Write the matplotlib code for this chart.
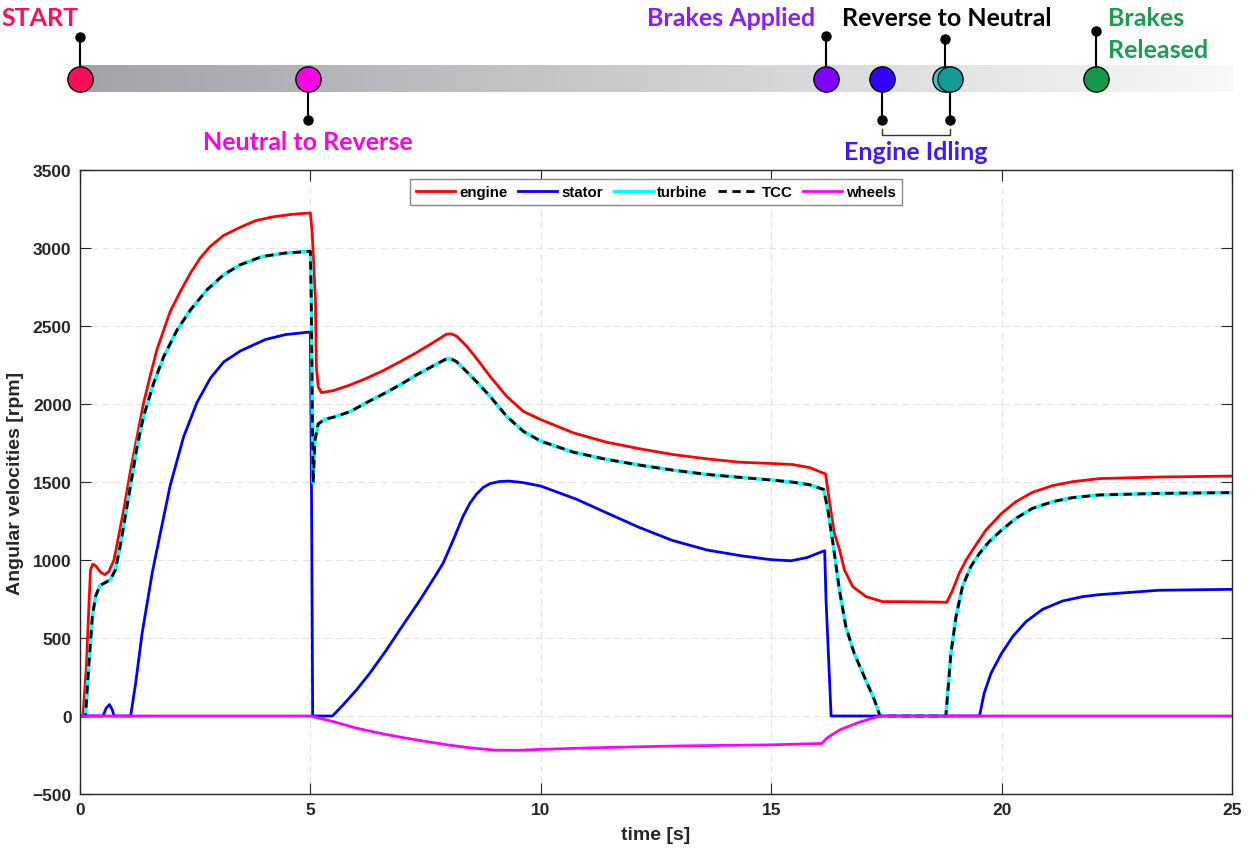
import matplotlib
matplotlib.use("Agg")
import matplotlib.pyplot as plt
import numpy as np
from matplotlib.colors import LinearSegmentedColormap

# engine speed [rpm]
t_engine = [0, 0.065, 0.14, 0.20, 0.23, 0.28, 0.35, 0.45, 0.54, 0.63, 0.74, 0.81, 0.95, 1.10,
            1.24, 1.38, 1.53, 1.67, 1.82, 1.96, 2.18, 2.40, 2.61, 2.83, 3.12, 3.48, 3.81, 4.17,
            4.60, 5.0, 5.04, 5.08, 5.11, 5.13, 5.17, 5.24, 5.50, 5.86, 6.22, 6.58, 6.94, 7.30,
            7.66, 7.95, 8.05, 8.17, 8.40, 8.65, 8.90, 9.26, 9.62, 10.0, 10.71, 11.43, 12.15,
            12.87, 13.59, 14.31, 15.0, 15.47, 15.84, 16.18, 16.26, 16.37, 16.48, 16.59, 16.77,
            17.06, 17.42, 17.92, 18.43, 18.81, 18.94, 19.08, 19.23, 19.44, 19.66, 20.0, 20.31,
            20.67, 21.11, 21.54, 22.12, 23.41, 25]
engine = [0, 0, 318, 746, 938, 974, 960, 921, 906, 927, 1002, 1107, 1321, 1578,
          1791, 2005, 2187, 2348, 2476, 2594, 2722, 2840, 2936, 3011, 3081, 3133, 3175, 3199,
          3216, 3225, 3096, 2850, 2669, 2240, 2111, 2073, 2086, 2122, 2165, 2214, 2270, 2329,
          2393, 2447, 2450, 2436, 2368, 2275, 2177, 2049, 1953, 1900, 1815, 1755, 1713,
          1676, 1649, 1627, 1619, 1612, 1592, 1551, 1385, 1171, 1070, 936, 829,
          765, 733, 733, 731, 729, 808, 915, 1000, 1096, 1192, 1299, 1374,
          1434, 1477, 1502, 1522, 1532, 1538]

# turbine speed [rpm], TCC follows the same trace
t_turbine = [0, 0.12, 0.19, 0.27, 0.34, 0.43, 0.56, 0.66, 0.77, 0.88, 1.02, 1.24, 1.38, 1.60,
             1.82, 2.11, 2.40, 2.76, 3.12, 3.48, 3.95, 4.46, 5.0, 5.02, 5.04, 5.06,
             5.10, 5.17, 5.31, 5.50, 5.86, 6.22, 6.58, 6.94, 7.30, 7.66, 7.95, 8.05, 8.17, 8.39,
             8.65, 8.90, 9.26, 9.62, 10.0, 10.71, 11.43, 12.15, 12.87, 13.59, 14.31, 15.0,
             15.47, 15.84, 16.14, 16.23, 16.34, 16.48, 16.62, 16.80, 17.02, 17.24, 17.36, 18.79,
             18.83, 18.90, 19.01, 19.15, 19.33, 19.52, 19.73, 20.0, 20.31, 20.67, 21.11, 21.54,
             22.12, 23.41, 25]
turbine = [0, 0, 318, 639, 767, 836, 857, 874, 938, 1100, 1342, 1727, 1920, 2134,
           2305, 2476, 2604, 2733, 2829, 2893, 2945, 2968, 2979, 2669, 2028, 1494,
           1769, 1872, 1902, 1915, 1951, 2009, 2064, 2122, 2186, 2244, 2289, 2290, 2272, 2208,
           2130, 2049, 1921, 1825, 1762, 1691, 1645, 1608, 1576, 1549, 1530, 1513,
           1499, 1482, 1452, 1321, 1107, 808, 573, 402, 252, 103, 0, 0,
           145, 402, 637, 829, 957, 1043, 1118, 1192, 1267, 1331, 1374, 1400,
           1417, 1427, 1432]

# stator speed [rpm]
t_stator = [0, 0.50, 0.57, 0.64, 0.70, 0.74, 1.10, 1.21, 1.35, 1.57, 1.75, 1.96, 2.25, 2.54,
            2.83, 3.12, 3.48, 4.02, 4.46, 5.0, 5.03, 5.05, 5.48, 5.71, 6.00, 6.29, 6.65,
            7.01, 7.38, 7.70, 7.88, 8.10, 8.31, 8.46, 8.60, 8.75, 8.90, 9.10, 9.30, 9.60, 10.0,
            10.78, 11.37, 12.12, 12.86, 13.61, 14.35, 15.0, 15.43, 15.77, 16.16, 16.19, 16.30,
            19.52, 19.62, 19.77, 20.0, 20.24, 20.53, 20.89, 21.32, 21.76, 22.12, 23.41, 25]
stator = [0, 0, 51, 73, 41, 0, 0, 212, 532, 920, 1180, 1480, 1790, 2010,
          2165, 2270, 2340, 2413, 2445, 2462, 1200, 0, 0, 71, 167, 274, 423,
          583, 744, 893, 979, 1128, 1278, 1363, 1420, 1465, 1490, 1503, 1506, 1497, 1474,
          1389, 1310, 1211, 1125, 1064, 1027, 1002, 995, 1015, 1060, 744, 0,
          0, 145, 274, 402, 509, 605, 684, 737, 765, 778, 806, 812]

# wheel speed [rpm]
t_wheels = [0, 5.0, 5.5, 6.0, 6.5, 7.0, 7.5, 8.0, 8.5, 9.0, 9.5, 10.0, 11.0, 12.0, 13.0,
            14.0, 15.0, 16.10, 16.18, 16.23, 16.50, 16.91, 17.35, 25]
wheels = [0, 0, -36, -78, -110, -138, -163, -186, -205, -219, -220, -214, -205, -198, -192,
          -188, -185, -176, -150, -137, -87, -40, 0, 0]

# gear / brake events along the time bar
event_t = [0, 4.95, 16.2, 17.4, 18.78, 18.88, 22.05]
event_col = ["#ff0d5b", "#ff00e6", "#7f00ff", "#3300ff", "#1dd3d3", "#129b9b", "#129a48"]
event_stem = [42, -41, 43, -41, 40, -41, 48]

plt.rcParams["font.family"] = ["Liberation Sans", "DejaVu Sans"]
plt.rcParams["font.weight"] = "bold"
plt.rcParams["axes.labelweight"] = "bold"

fig = plt.figure(figsize=(12.55, 8.53), dpi=100)
ax = fig.add_axes([0.0637, 0.068, 0.918, 0.7315])

ax.plot(t_engine, engine, color="red", lw=2, label="engine")
ax.plot(t_stator, stator, color="blue", lw=2, label="stator")
ax.plot(t_turbine, turbine, color="cyan", lw=2.5, label="turbine")
ax.plot(t_turbine, turbine, color="black", lw=2, ls=(0, (3, 2)), label="TCC")
ax.plot(t_wheels, wheels, color="magenta", lw=2, label="wheels")

ax.set_xlim(0, 25)
ax.set_ylim(-500, 3500)
ax.set_xticks(np.arange(0, 26, 5))
ax.set_yticks(np.arange(-500, 3501, 500))
ax.grid(True, ls=(0, (6, 4)), color="#e3e3e3", lw=0.8)
ax.tick_params(direction="in", length=8, width=0.8, top=True, right=True,
               labelsize=12.5, colors="#262626", labelcolor="#262626", pad=6)
plt.setp(ax.get_xticklabels() + ax.get_yticklabels(), fontweight="bold")
for s in ax.spines.values():
    s.set_color("#262626")
    s.set_linewidth(1)
ax.set_xlabel("time [s]", fontsize=14, color="#262626", labelpad=6)
ax.set_ylabel("Angular velocities [rpm]", fontsize=14, color="#262626", labelpad=6)

leg = ax.legend(loc="upper center", bbox_to_anchor=(0.5, 0.986), ncol=5, fontsize=10.8,
                handlelength=2.6, columnspacing=0.7, handletextpad=0.3, borderpad=0.4,
                borderaxespad=0, fancybox=False, framealpha=1, edgecolor="#888888")
leg.get_frame().set_linewidth(1)

# time bar with events
axt = fig.add_axes([0.0637, 0.8124, 0.918, 0.1876])
axt.set_xlim(0, 25)
axt.set_ylim(-80, 80)
axt.axis("off")

gray = LinearSegmentedColormap.from_list("bar", ["#a2a3a7", "#f8f8f8"])
axt.imshow(np.linspace(0, 1, 256)[None, :], cmap=gray, aspect="auto",
           extent=[0, 25, -13, 13], zorder=1)

for t, c, h in zip(event_t, event_col, event_stem):
    axt.plot([t, t], [0, h], color="black", lw=1.5, zorder=2, clip_on=False)
    axt.plot(t, h, "o", color="black", ms=6.5, zorder=2, clip_on=False)
    axt.scatter(t, 0, s=330, color=c, edgecolor="black", lw=1, zorder=3, clip_on=False)

# bracket for the idling period
axt.plot([17.4, 17.4, 18.88, 18.88], [-50, -56, -56, -50], color="#333333", lw=1, clip_on=False)

lab = dict(family=["Lato", "DejaVu Sans"], fontweight="bold", fontsize=18, va="center")
axt.text(-0.02, 62, "START", color="#ff0d5b", ha="right", **lab)
axt.text(4.95, -62, "Neutral to Reverse", color="#ff00e6", ha="center", **lab)
axt.text(15.95, 62, "Brakes Applied", color="#8b1cff", ha="right", **lab)
axt.text(18.8, 62, "Reverse to Neutral", color="black", ha="center", **lab)
axt.text(18.14, -72, "Engine Idling", color="#3d1aff", ha="center", **lab)
axt.text(22.3, 62, "Brakes", color="#1a9e50", ha="left", **lab)
axt.text(22.3, 30, "Released", color="#1a9e50", ha="left", **lab)

fig.savefig("out.png", dpi=100)
